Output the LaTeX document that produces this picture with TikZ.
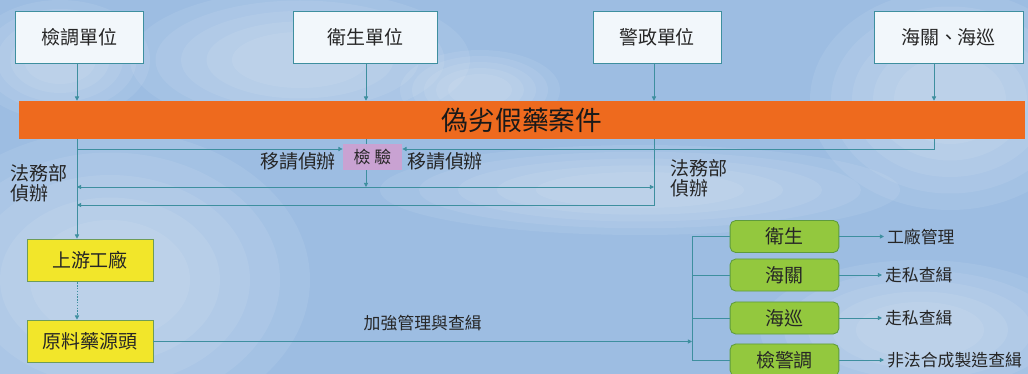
\documentclass[tikz,border=0pt]{standalone}
\usepackage{fontspec}
\newfontfamily\cjk{Noto Sans CJK TC}
\usetikzlibrary{arrows.meta}
\definecolor{sky}{HTML}{9DBDE2}
\definecolor{lineteal}{HTML}{3E8F9F}
\definecolor{casebar}{HTML}{EE6A1E}
\definecolor{unitfill}{HTML}{F2F7FB}
\definecolor{srcfill}{HTML}{F2E62A}
\definecolor{srcline}{HTML}{6E9C58}
\definecolor{agfill}{HTML}{93C83E}
\definecolor{agline}{HTML}{5E9B3C}
\definecolor{testfill}{HTML}{C9A2D2}
\begin{document}
\begin{tikzpicture}[x=0.025cm, y=-0.025cm,
  every node/.style={font=\cjk\fontsize{13.5}{14.5}\selectfont, text=black!85},
  unit/.style={draw=lineteal, fill=unitfill, line width=0.6pt, minimum height=1.3cm},
  src/.style={draw=srcline, fill=srcfill, line width=0.6pt, minimum width=3.15cm, minimum height=1.07cm},
  agency/.style={draw=agline, fill=agfill, line width=0.6pt, rounded corners=4pt, minimum width=2.72cm, minimum height=0.8cm},
  duty/.style={anchor=west, inner sep=2pt, font=\cjk\fontsize{12}{14}\selectfont},
  line/.style={draw=lineteal, line width=0.6pt},
  arr/.style={line, -{Triangle[length=3pt, width=3pt]}}]
% sky with soft clouds
\useasboundingbox (0,0) rectangle (1028,374);
\fill[sky] (0,0) rectangle (1028,374);
\foreach \cx/\cy/\a/\b in {110/280/200/150, 300/60/170/70, 480/90/80/40, 950/100/140/110,
    920/330/160/70, 640/190/260/45, 60/60/90/60}
  \foreach \s in {1,0.85,0.7,0.55,0.4}
    \fill[white, opacity=0.08] (\cx,\cy) ellipse ({\s*\a} and {\s*\b});

% units
\node[unit, minimum width=3.18cm] (jd) at (79.5,37) {檢調單位};
\node[unit, minimum width=3.58cm] (ws) at (365.5,37) {衛生單位};
\node[unit, minimum width=3.2cm] (jz) at (657,37) {警政單位};
\node[unit, minimum width=3.72cm] (hg) at (948.5,37) {海關、海巡};
\node[fill=casebar, minimum width=25.15cm, minimum height=0.95cm,
  font=\cjk\fontsize{19}{22}\selectfont, text=black!90] (case) at (522,120) {偽劣假藥案件};

% columns of the lines
\coordinate (jdx) at (77,0);
\coordinate (wsx) at (366,0);
\coordinate (jzx) at (654,0);
\coordinate (hgx) at (934,0);
\coordinate (r1) at (0,149);
\coordinate (r2) at (0,187);
\coordinate (r3) at (0,205);

\foreach \u/\c in {jd/jdx, ws/wsx, jz/jzx, hg/hgx}
  \draw[arr] (\c |- \u.south) -- (\c |- case.north);

\node[fill=testfill, minimum width=1.48cm, minimum height=0.65cm, inner sep=1pt,
  font=\cjk\fontsize{12}{14}\selectfont] (jy) at (372.5,157) {檢 驗};
\node (refl) at (298,161) {移請偵辦};
\node (refr) at (445,161) {移請偵辦};
\node[anchor=west, align=left, inner sep=0pt] (lawl) at (10,183) {法務部\\偵辦};
\node[anchor=west, align=left, inner sep=0pt] (lawr) at (670,178) {法務部\\偵辦};

\draw[arr] (jdx |- r1) -- (jy.west |- r1);
\draw[arr] (hgx |- case.south) |- (jy.east |- r1);
\draw[line] (wsx |- case.south) -- (wsx |- jy.north);
\draw[arr] (wsx |- jy.south) -- (wsx |- r2);
\draw[arr] (wsx |- r2) -- (jdx |- r2);
\draw[arr] (wsx |- r2) -- (jzx |- r2);
\draw[arr] (jzx |- case.south) |- (jdx |- r3);

% sources
\node[src] (up) at (90,260.5) {上游工廠};
\node[src] (raw) at (90,341.5) {原料藥源頭};
\draw[arr] (jdx |- case.south) -- (jdx |- up.north);
\draw[arr, dash pattern=on 1pt off 1pt] (jdx |- up.south) -- (jdx |- raw.north);

% agencies
\coordinate (brk) at (692,0);
\node[agency] (g1) at (784.5,236.5) {衛生};
\node[agency] (g2) at (784.5,275) {海關};
\node[agency] (g3) at (784.5,318) {海巡};
\node[agency] (g4) at (784.5,360) {檢警調};
\draw[arr] (raw.east) -- (brk |- raw.east) node[pos=0.5, above=4pt, font=\cjk\fontsize{12}{14}\selectfont] (mgmt) {加強管理與查緝};
\draw[line] (g1.west) -| (brk |- g4.west) -- (g4.west);
\draw[line] (brk |- g2.west) -- (g2.west);
\draw[line] (brk |- g3.west) -- (g3.west);

\node[duty] (d1) at (884,236.5) {工廠管理};
\node[duty] (d2) at (882,275) {走私查緝};
\node[duty] (d3) at (882,318) {走私查緝};
\node[duty] (d4) at (884,360) {非法合成製造查緝};
\foreach \g/\d in {g1/d1, g2/d2, g3/d3, g4/d4}
  \draw[arr] (\g.east) -- (\d.west);
\end{tikzpicture}
\end{document}
